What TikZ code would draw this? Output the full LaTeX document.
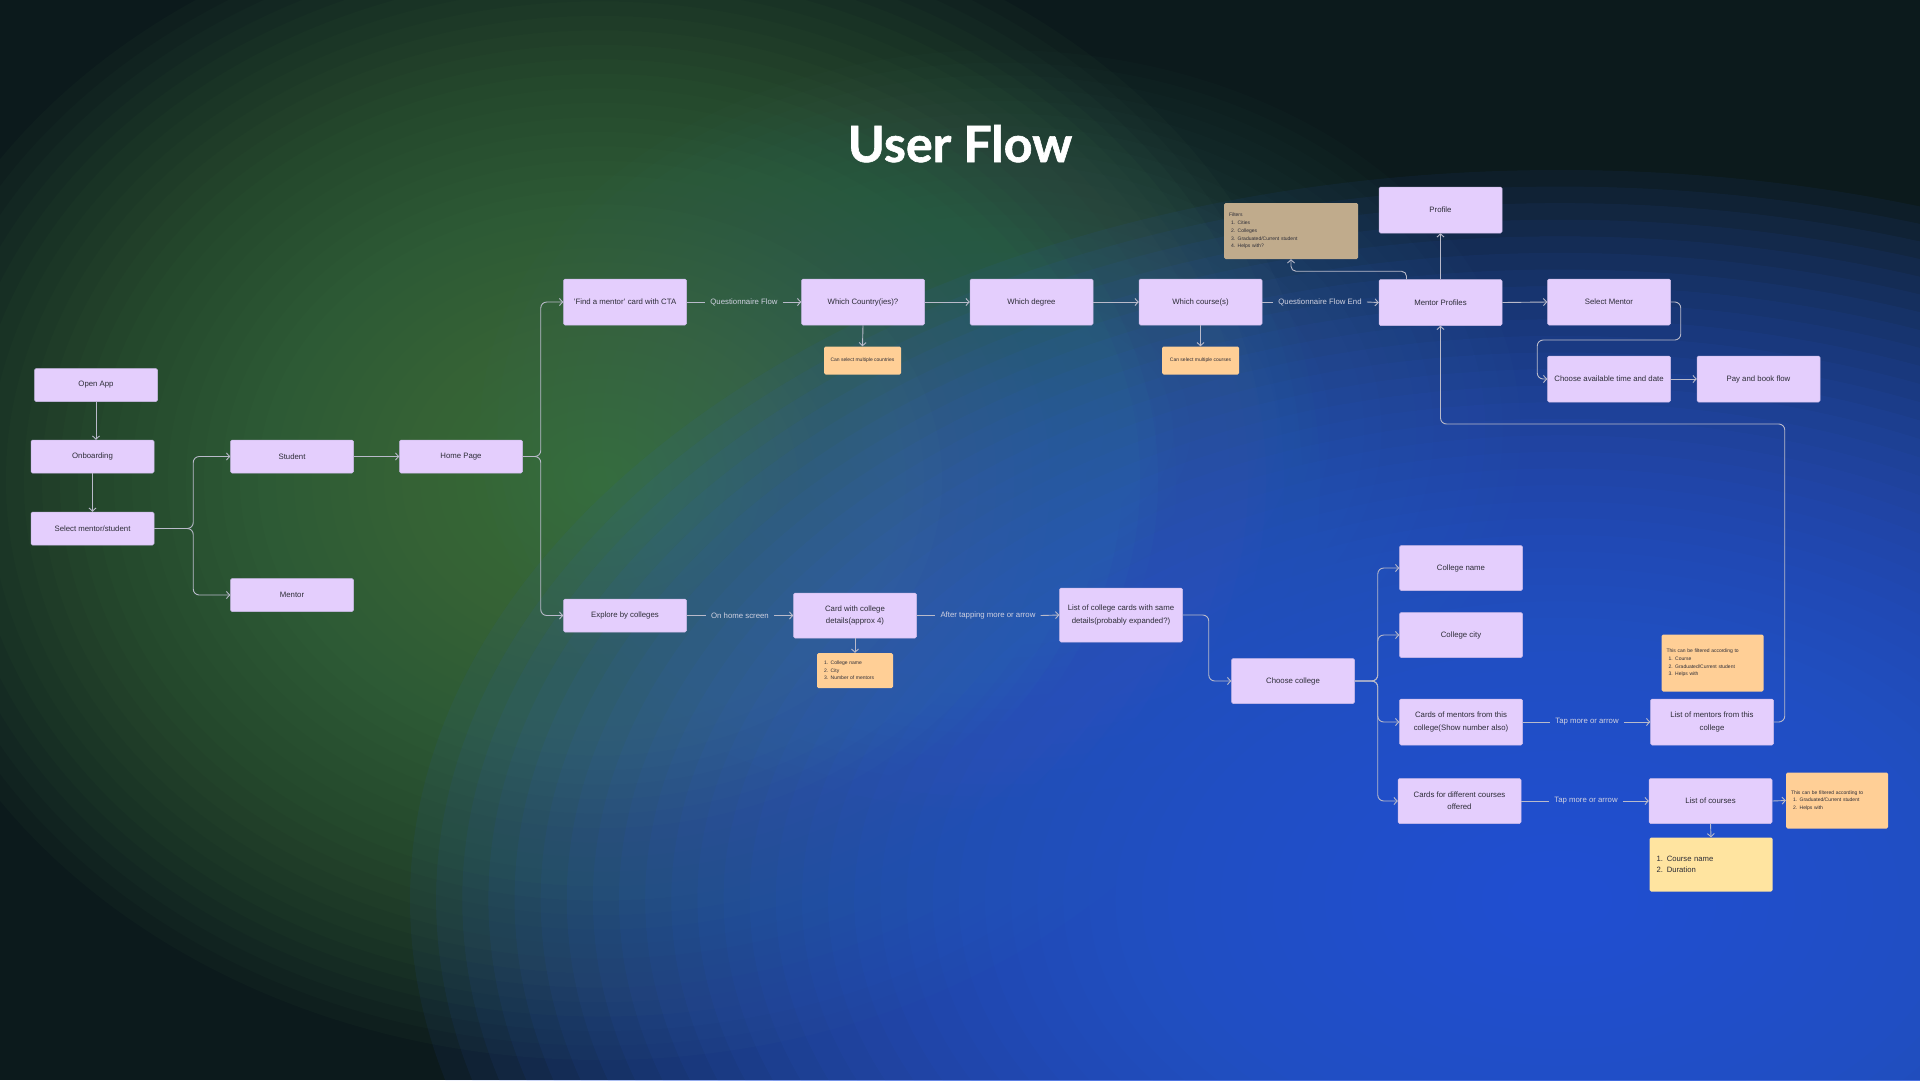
\documentclass[tikz,border=0pt]{standalone}
\usepackage{fontspec}
\setmainfont{Liberation Sans}
\newfontfamily\titlefont{Lato}[BoldFeatures={FakeBold=1.2}]
\usetikzlibrary{arrows.meta,calc}
\definecolor{bgdark}{RGB}{12,26,28}
\definecolor{bggreen}{RGB}{72,128,72}
\definecolor{bgteal}{RGB}{66,116,112}
\definecolor{bgblue}{RGB}{46,92,222}
\definecolor{boxfill}{RGB}{228,206,253}
\definecolor{boxline}{RGB}{205,188,232}
\definecolor{notepeach}{RGB}{255,207,150}
\definecolor{notetan}{RGB}{192,171,140}
\definecolor{noteyellow}{RGB}{255,228,160}
\definecolor{txt}{RGB}{45,45,55}
\definecolor{conncol}{RGB}{185,186,202}
\definecolor{lblcol}{RGB}{208,209,225}
\tikzset{
  box/.style={draw=boxline, line width=0.5pt, fill=boxfill, rounded corners=1.5pt,
    minimum width=123pt, minimum height=46pt, inner sep=2pt, align=center,
    text=txt, font=\fontsize{7.8}{12.2}\selectfont},
  boxs/.style={box, minimum height=33pt},
  note/.style={fill=notepeach, rounded corners=1.5pt, text=txt, inner sep=0pt,
    font=\fontsize{5}{7.7}\selectfont},
  conn/.style={draw=conncol, line width=0.9pt, rounded corners=6pt,
    -{Straight Barb[length=3.2pt,width=7pt]}},
  plain/.style={draw=conncol, line width=0.9pt},
  lab/.style={text=lblcol, font=\fontsize{7.8}{9}\selectfont, inner sep=5pt},
}
\begin{document}
\begin{tikzpicture}[x=1pt,y=-1pt]
% background
\fill[bgdark] (0,0) rectangle (1920,1080);
\useasboundingbox (0,0) rectangle (1920,1080);
\begin{scope}
\clip (0,0) rectangle (1920,1080);
\foreach \i in {1,...,40}{
  \fill[bggreen, fill opacity=0.052] (600,480) ellipse [x radius={720pt/40*\i}, y radius={580pt/40*\i}];
}
\foreach \i in {1,...,30}{
  \fill[bgteal, fill opacity=0.035] (1000,430) ellipse [x radius={520pt/30*\i}, y radius={380pt/30*\i}];
}
\foreach \i in {1,...,44}{
  \fill[bgblue, fill opacity=0.07] (1560,900) ellipse [x radius={1150pt/44*\i}, y radius={730pt/44*\i}];
}
\end{scope}

% title
\node[anchor=base, text=white, font=\titlefont\bfseries\fontsize{50}{60}\selectfont] (title) at (960,162) {User Flow};

% left column
\node[boxs] (open) at (96,385) {Open App};
\node[boxs] (onb) at (92.5,456.5) {Onboarding};
\node[boxs] (sel) at (92.5,528.5) {Select mentor/student};
\node[boxs] (stu) at (292,456.5) {Student};
\node[boxs] (men) at (292,595) {Mentor};
\node[boxs] (home) at (461,456.5) {Home Page};

% top row
\node[box] (find) at (625,302) {'Find a mentor' card with CTA};
\node[box] (country) at (863,302) {Which Country(ies)?};
\node[box] (degree) at (1031.5,302) {Which degree};
\node[box] (course) at (1200.5,302) {Which course(s)};
\node[box] (mp) at (1440.5,302.5) {Mentor Profiles};
\node[box] (selm) at (1609,302) {Select Mentor};
\node[box] (profile) at (1440.5,210) {Profile};
\node[box] (time) at (1609,379) {Choose available time and date};
\node[box] (pay) at (1758.5,379) {Pay and book flow};
\coordinate (loopc) at (1440.5,424);

\node[note, minimum width=77pt, minimum height=28pt] (ncountry) at (862.5,360.5) {Can select multiple countries};
\node[note, minimum width=77pt, minimum height=28pt] (ncourse) at (1200.5,360.5) {Can select multiple courses};
\node[note, fill=notetan, text width=124pt, inner xsep=5pt, minimum height=56pt, align=left] (filt) at (1291,231) {Filters\\\hspace*{2pt}1. Cities\\\hspace*{2pt}2. Colleges\\\hspace*{2pt}3. Graduated/Current student\\\hspace*{2pt}4. Helps with?};

% bottom flow
\node[boxs] (explore) at (625,615.5) {Explore by colleges};
\node[box, minimum height=45pt] (card) at (855,615.5) {Card with college\\details(approx 4)};
\node[note, text width=62pt, inner xsep=7pt, minimum height=35pt, align=left] (ncard) at (855,670.5) {1. College name\\2. City\\3. Number of mentors};
\node[box, minimum height=54pt] (listc) at (1121,615) {List of college cards with same\\details(probably expanded?)};
\node[box, minimum height=45pt] (choose) at (1293,681) {Choose college};
\node[box, minimum height=45pt] (cname) at (1461,568) {College name};
\node[box, minimum height=45pt] (ccity) at (1461,635) {College city};
\node[box] (cmen) at (1461,722) {Cards of mentors from this\\college(Show number also)};
\node[box, minimum height=45pt] (ccour) at (1459.5,801) {Cards for different courses\\offered};
\node[box] (lmen) at (1712,722) {List of mentors from this\\college};
\node[box, minimum height=45pt] (lcour) at (1710.5,801) {List of courses};
\node[note, text width=92pt, inner xsep=5pt, minimum height=57pt, align=left] (nf1) at (1712.5,663) {This can be filtered according to\\\hspace*{2pt}1. Course\\\hspace*{2pt}2. Graduated/Current student\\\hspace*{2pt}3. Helps with};
\node[note, text width=92pt, inner xsep=5pt, minimum height=56pt, align=left] (nf2) at (1837,800.5) {This can be filtered according to\\\hspace*{2pt}1. Graduated/Current student\\\hspace*{2pt}2. Helps with};
\node[note, fill=noteyellow, text width=109pt, inner xsep=7pt, minimum height=54pt, align=left, font=\fontsize{7.7}{11.3}\selectfont] (ny) at (1711,864.5) {1. Course name\\2. Duration};

% connector labels
\node[lab] (l1) at (744,302) {Questionnaire Flow};
\node[lab] (l2) at (1320,302) {Questionnaire Flow End};
\node[lab] (l3) at (740,615.5) {On home screen};
\node[lab] (l4) at (988,615.5) {After tapping more or arrow};
\node[lab] (l5) at (1587,722) {Tap more or arrow};
\node[lab] (l6) at (1586,801) {Tap more or arrow};

% connectors
\draw[conn] (open.south) -- (open.south |- onb.north);
\draw[conn] (onb.south) -- (onb.south |- sel.north);
\draw[conn] (sel.east) -- ++(39,0) |- (stu.west);
\draw[conn] (sel.east) -- ++(39,0) |- (men.west);
\draw[conn] (stu.east) -- (home.west);
\draw[conn] (home.east) -- ++(18,0) |- (find.west);
\draw[conn] (home.east) -- ++(18,0) |- (explore.west);

\draw[plain] (find.east) -- (l1.west);
\draw[conn] (l1.east) -- (country.west);
\draw[conn] (country.east) -- (degree.west);
\draw[conn] (degree.east) -- (course.west);
\draw[plain] (course.east) -- (l2.west);
\draw[conn] (l2.east) -- (mp.west);
\draw[conn] (country.south) -- (ncountry.north);
\draw[conn] (course.south) -- (ncourse.north);
\draw[conn] (mp.east) -- (selm.west);
\draw[conn] (mp.north) -- (profile.south);
\draw[conn, rounded corners=5pt] ([xshift=-34pt]mp.north) -- ++(0,-8) -| (filt.south);
\draw[conn] (selm.east) -- ++(10,0) |- ($(time.west)+(-10,-39)$) |- (time.west);
\draw[conn] (time.east) -- (pay.west);

\draw[plain] (explore.east) -- (l3.west);
\draw[conn] (l3.east) -- (card.west);
\draw[conn] (card.south) -- (ncard.north);
\draw[plain] (card.east) -- (l4.west);
\draw[conn] (l4.east) -- (listc.west);
\draw[conn] (listc.east) -- ++(26,0) |- (choose.west);
\draw[conn] (choose.east) -- ++(23,0) |- (cname.west);
\draw[conn] (choose.east) -- ++(23,0) |- (ccity.west);
\draw[conn] (choose.east) -- ++(23,0) |- (cmen.west);
\draw[conn] (choose.east) -- ++(23,0) |- (ccour.west);
\draw[plain] (cmen.east) -- (l5.west);
\draw[conn] (l5.east) -- (lmen.west);
\draw[plain] (ccour.east) -- (l6.west);
\draw[conn] (l6.east) -- (lcour.west);
\draw[conn] (lcour.south) -- (ny.north);
\draw[conn] (lcour.east) -- (nf2.west);
\draw[conn] (lmen.east) -- ++(11,0) |- (loopc) -- (mp.south);
\end{tikzpicture}
\end{document}
